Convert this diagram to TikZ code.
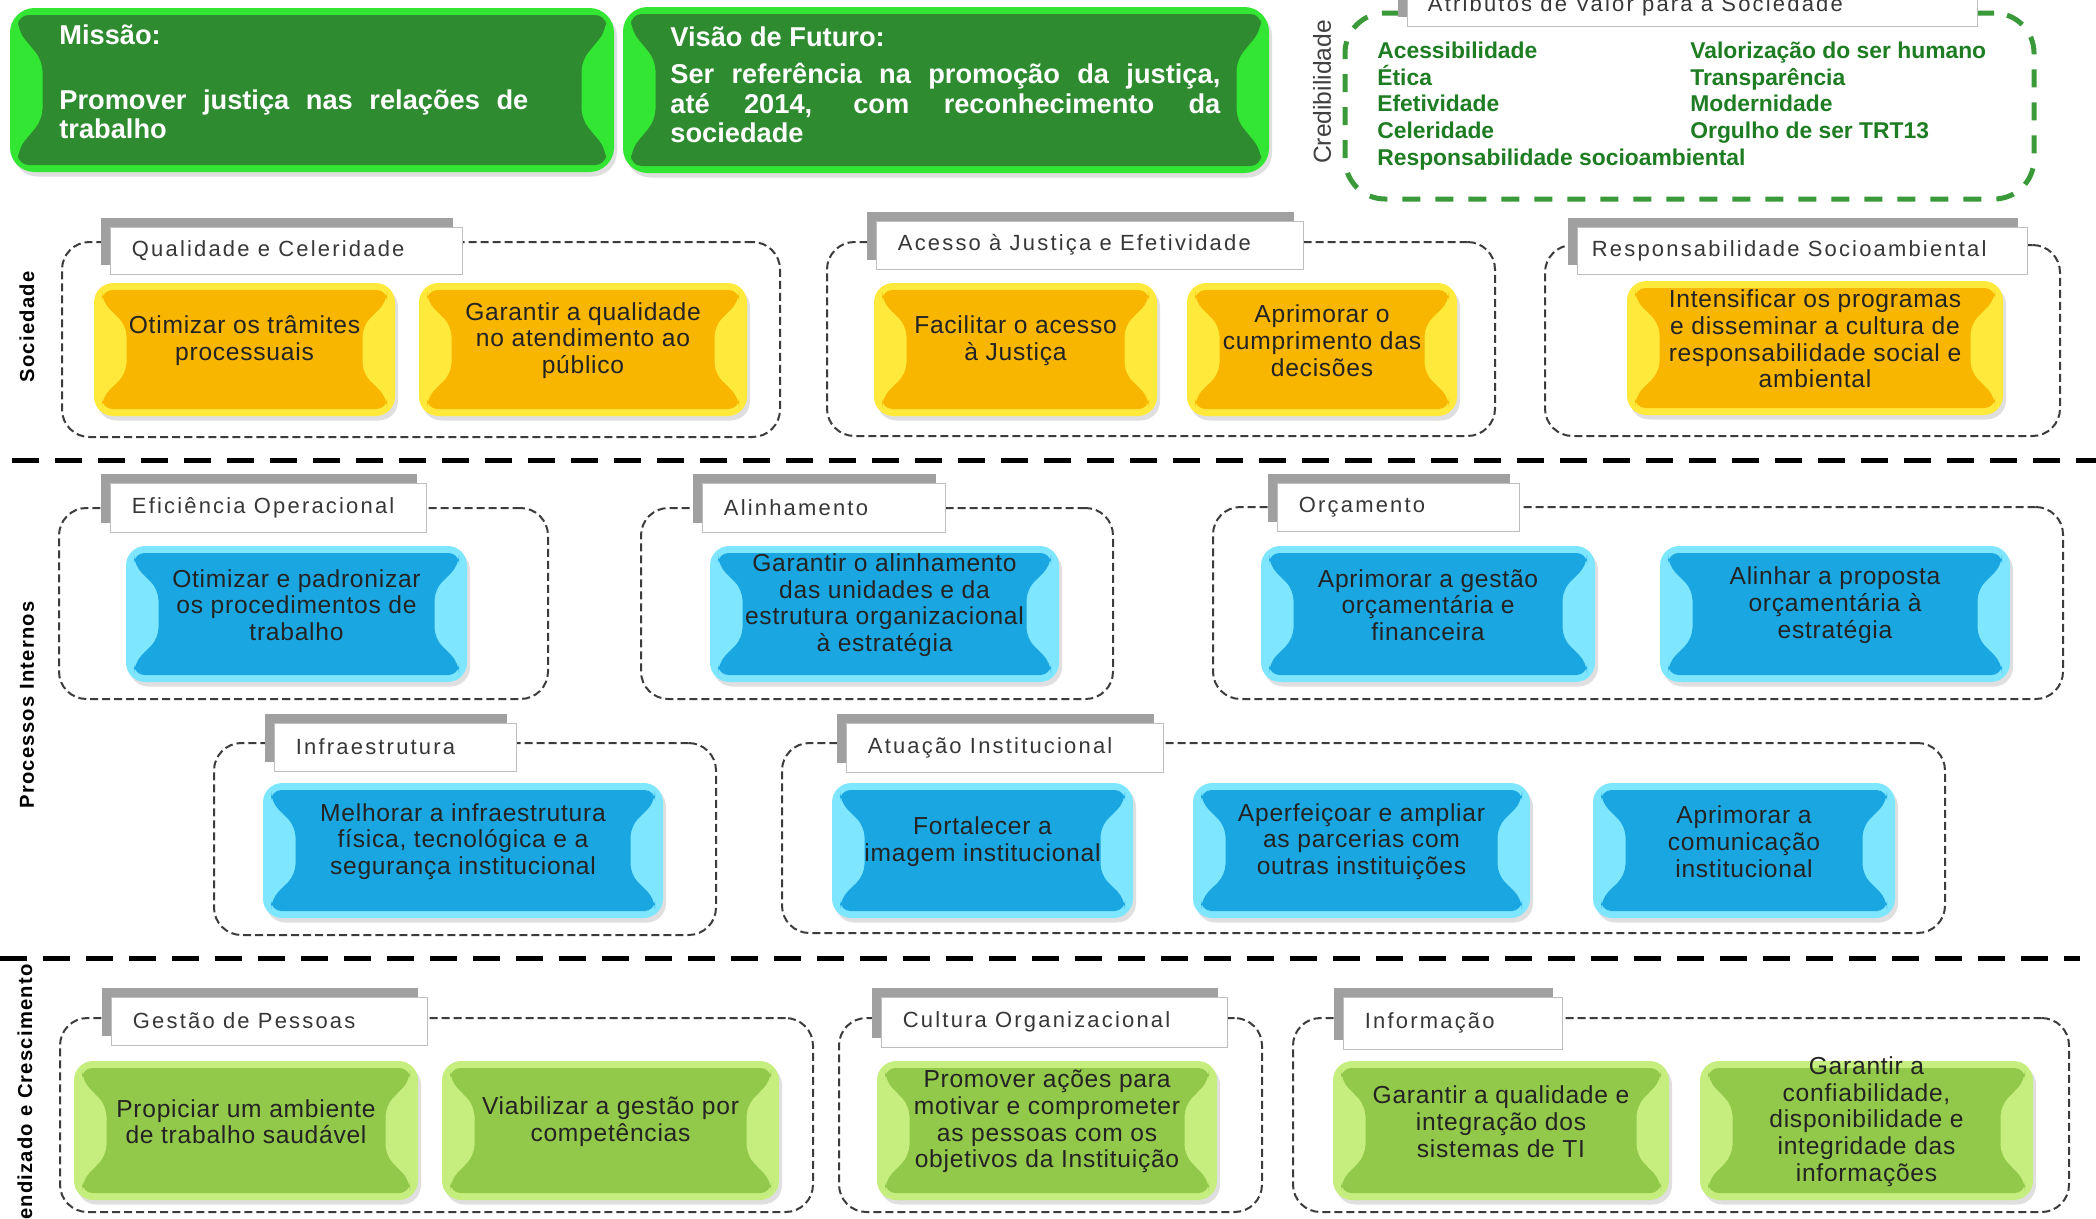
\documentclass[tikz,border=0pt]{standalone}
\usepackage{fontspec}
\setmainfont{Liberation Sans}
\newfontfamily\fontBox[LetterSpace=3]{Liberation Sans}
\newfontfamily\fontTab[LetterSpace=10]{Liberation Sans}
\newfontfamily\fontPersp[LetterSpace=6]{Liberation Sans}
\usetikzlibrary{shapes, positioning, fit, calc, shadows}
\definecolor{cTopEdge}{RGB}{51, 230, 51}
\definecolor{cTopFill}{RGB}{46, 139, 48}
\definecolor{cYelEdge}{RGB}{255, 234, 60}
\definecolor{cYelFill}{RGB}{248, 182, 0}
\definecolor{cBluEdge}{RGB}{127, 230, 255}
\definecolor{cBluFill}{RGB}{26, 167, 225}
\definecolor{cGrnEdge}{RGB}{197, 238, 126}
\definecolor{cGrnFill}{RGB}{147, 201, 75}
\definecolor{cBoxText}{RGB}{35, 35, 35}
\definecolor{cAttrText}{RGB}{30, 125, 34}
\definecolor{cCredLine}{RGB}{58, 154, 58}
\definecolor{cTabDraw}{RGB}{190, 190, 190}
\definecolor{cTabShadow}{RGB}{160, 160, 160}
\definecolor{cTabText}{RGB}{55, 55, 55}
\definecolor{cGroupLine}{RGB}{60, 60, 60}
\tikzset{
    % --- bloco de objetivo ---
    objBase/.style={
        rectangle, rounded corners=11pt, inner sep=0pt, align=center,
        text=cBoxText, font=\fontBox\fontsize{14}{15.2}\selectfont,
        drop shadow={opacity=0.25, shadow xshift=0.6mm, shadow yshift=-0.9mm}
    },
    objBevel/.style 2 args={
        objBase, fill=#1,
        path picture={
            \fill[#2, rounded corners=6pt]
                ($(path picture bounding box.north west)+(1.6mm,-1.4mm)$) --
                ($(path picture bounding box.north east)+(-1.6mm,-1.4mm)$) --
                ($(path picture bounding box.north east)!0.14!(path picture bounding box.south east)+(-1.6mm,0)$) --
                ($(path picture bounding box.north east)!0.32!(path picture bounding box.south east)+(-6.5mm,0)$) --
                ($(path picture bounding box.north east)!0.68!(path picture bounding box.south east)+(-6.5mm,0)$) --
                ($(path picture bounding box.north east)!0.86!(path picture bounding box.south east)+(-1.6mm,0)$) --
                ($(path picture bounding box.south east)+(-1.6mm,1.4mm)$) --
                ($(path picture bounding box.south west)+(1.6mm,1.4mm)$) --
                ($(path picture bounding box.north west)!0.86!(path picture bounding box.south west)+(1.6mm,0)$) --
                ($(path picture bounding box.north west)!0.68!(path picture bounding box.south west)+(6.5mm,0)$) --
                ($(path picture bounding box.north west)!0.32!(path picture bounding box.south west)+(6.5mm,0)$) --
                ($(path picture bounding box.north west)!0.14!(path picture bounding box.south west)+(1.6mm,0)$) -- cycle;
        }
    },
    objYellow/.style={objBevel={cYelEdge}{cYelFill}},
    objBlue/.style={objBevel={cBluEdge}{cBluFill}},
    objGreen/.style={objBevel={cGrnEdge}{cGrnFill}},
    styleTop/.style={objBevel={cTopEdge}{cTopFill}, rounded corners=14pt},
    styleTopText/.style={
        inner sep=0pt, text=white,
        font=\fontsize{15.5}{16.8}\selectfont\bfseries
    },
    % --- grupos tracejados ---
    styleGroup/.style={
        rectangle, draw=cGroupLine, line width=0.4mm, inner sep=0pt,
        dash pattern=on 1.6mm off 0.8mm, rounded corners=5.5mm
    },
    styleCred/.style={
        rectangle, draw=cCredLine, line width=1mm, inner sep=0pt,
        dash pattern=on 3.6mm off 3mm, rounded corners=8mm
    },
    styleSep/.style={
        draw=black, line width=1mm, dash pattern=on 5.4mm off 3.2mm
    },
    % --- abas ---
    styleTab/.style={
        rectangle, fill=white, draw=cTabDraw, line width=0.5pt, inner sep=0pt,
        drop shadow={shadow xshift=-1.8mm, shadow yshift=1.8mm, fill=cTabShadow, opacity=1}
    },
    styleTabText/.style={
        inner sep=0pt, text=cTabText, font=\fontTab\fontsize{12.5}{14}\selectfont
    },
    % --- textos laterais ---
    stylePersp/.style={
        inner sep=0pt, rotate=90, text=black,
        font=\fontPersp\fontsize{11.5}{13}\selectfont\bfseries
    },
    styleCredLabel/.style={
        inner sep=0pt, rotate=90, text=black!75, font=\fontsize{14}{16}\selectfont
    },
    styleAttr/.style={
        inner sep=0pt, align=left, text=cAttrText,
        font=\fontsize{13}{15.1}\selectfont\bfseries
    }
}

\begin{document}
\begin{tikzpicture}[x=0.2mm, y=-0.2mm]

    \useasboundingbox (0,0) rectangle (2096,1218);
    \fill[white] (0,0) rectangle (2096,1218);

    % =========================================================
    % 1. Missão, Visão e Atributos
    % =========================================================

    \node [styleTop, fit={(10,8) (614,172)}] (missao) {};
    \node [styleTopText, anchor=west] (missaoTitle) at (59,35) {Missão:};
    \node [styleTopText, text width=93.8mm, align=justify, anchor=north west] (missaoText) at (59,89)
        {Promover justiça nas relações de\linebreak trabalho};

    \node [styleTop, fit={(623,7) (1269,173)}] (visao) {};
    \node [styleTopText, anchor=west] (visaoTitle) at (670,37) {Visão de Futuro:};
    \node [styleTopText, text width=110mm, align=justify, anchor=north west] (visaoText) at (670,63)
        {Ser referência na promoção da justiça,\linebreak até 2014, com reconhecimento da\linebreak sociedade};

    \node [styleCred, fit={(1345,13) (2034,199)}] (cred) {};
    \node [styleTab, fit={(1407,-20) (1977,26)}] (tabAttr) {};
    \node [styleTabText, right=4.2mm of tabAttr.west, yshift=-0.6mm] (tabAttrText) {Atributos de Valor para a Sociedade};
    \node [styleCredLabel] (credLabel) at (1322,92) {Credibilidade};
    \node [styleAttr, anchor=north west] (attrLeft) at (1377,42)
        {Acessibilidade\\Ética\\Efetividade\\Celeridade\\Responsabilidade socioambiental};
    \node [styleAttr, anchor=north west] (attrRight) at (1690,42)
        {Valorização do ser humano\\Transparência\\Modernidade\\Orgulho de ser TRT13};

    % =========================================================
    % 2. Perspectivas
    % =========================================================

    \coordinate (sepTopL) at (12,460);
    \coordinate (sepTopR) at (2096,460);
    \coordinate (sepBotL) at (0,958);
    \coordinate (sepBotR) at (2080,958);
    \draw [styleSep] (sepTopL) -- (sepTopR);
    \draw [styleSep] (sepBotL) -- (sepBotR);

    \node [stylePersp] (perspSoc) at (27,327) {Sociedade};
    \node [stylePersp] (perspProc) at (27,705) {Processos Internos};
    \node [stylePersp, anchor=east] (perspAprend) at (27,964) {Aprendizado e Crescimento};

    % =========================================================
    % 3. Sociedade
    % =========================================================

    % Qualidade e Celeridade
    \node [styleGroup, fit={(62,242) (780,437)}] (grpQC) {};
    \node [styleTab, fit={(110,227) (462,274)}] (tabQC) {};
    \node [styleTabText, right=4.4mm of tabQC.west] (tabQCtext) {Qualidade e Celeridade};
    \node [objYellow, fit={(94,283) (395,416)}] (yQC1) {Otimizar os trâmites\\processuais};
    \node [objYellow, fit={(419,283) (747,416)}] (yQC2) {Garantir a qualidade\\no atendimento ao\\público};

    % Acesso à Justiça e Efetividade
    \node [styleGroup, fit={(827,242) (1495,436)}] (grpAJ) {};
    \node [styleTab, fit={(876,221) (1303,269)}] (tabAJ) {};
    \node [styleTabText, right=4.4mm of tabAJ.west] (tabAJtext) {Acesso à Justiça e Efetividade};
    \node [objYellow, fit={(874,283) (1157,416)}] (yAJ1) {Facilitar o acesso\\à Justiça};
    \node [objYellow, fit={(1187,283) (1457,416)}] (yAJ2) {Aprimorar o\\cumprimento das\\decisões};

    % Responsabilidade Socioambiental
    \node [styleGroup, fit={(1545,245) (2060,436)}] (grpRS) {};
    \node [styleTab, fit={(1577,227) (2027,274)}] (tabRS) {};
    \node [styleTabText, right=3mm of tabRS.west] (tabRStext) {Responsabilidade Socioambiental};
    \node [objYellow, fit={(1627,281) (2003,415)}] (yRS1)
        {Intensificar os programas\\e disseminar a cultura de\\responsabilidade social e\\ambiental};

    % =========================================================
    % 4. Processos Internos
    % =========================================================

    % Eficiência Operacional
    \node [styleGroup, fit={(59,508) (548,699)}] (grpEO) {};
    \node [styleTab, fit={(110,483) (426,532)}] (tabEO) {};
    \node [styleTabText, right=4.4mm of tabEO.west] (tabEOtext) {Eficiência Operacional};
    \node [objBlue, fit={(126,546) (467,682)}] (bEO1) {Otimizar e padronizar\\os procedimentos de\\trabalho};

    % Alinhamento
    \node [styleGroup, fit={(641,508) (1113,699)}] (grpAL) {};
    \node [styleTab, fit={(702,483) (945,532)}] (tabAL) {};
    \node [styleTabText, right=4.4mm of tabAL.west] (tabALtext) {Alinhamento};
    \node [objBlue, fit={(710,546) (1059,682)}] (bAL1)
        {Garantir o alinhamento\\das unidades e da\\estrutura organizacional\\à estratégia};

    % Orçamento
    \node [styleGroup, fit={(1213,507) (2063,699)}] (grpOR) {};
    \node [styleTab, fit={(1277,483) (1519,531)}] (tabOR) {};
    \node [styleTabText, right=4.4mm of tabOR.west] (tabORtext) {Orçamento};
    \node [objBlue, fit={(1261,546) (1595,682)}] (bOR1) {Aprimorar a gestão\\orçamentária e\\financeira};
    \node [objBlue, fit={(1660,546) (2010,682)}] (bOR2) {Alinhar a proposta\\orçamentária à\\estratégia};

    % Infraestrutura
    \node [styleGroup, fit={(214,743) (716,935)}] (grpIN) {};
    \node [styleTab, fit={(274,723) (516,771)}] (tabIN) {};
    \node [styleTabText, right=4.4mm of tabIN.west] (tabINtext) {Infraestrutura};
    \node [objBlue, fit={(263,783) (663,918)}] (bIN1)
        {Melhorar a infraestrutura\\física, tecnológica e a\\segurança institucional};

    % Atuação Institucional
    \node [styleGroup, fit={(782,743) (1945,933)}] (grpAI) {};
    \node [styleTab, fit={(846,723) (1163,772)}] (tabAI) {};
    \node [styleTabText, right=4.4mm of tabAI.west] (tabAItext) {Atuação Institucional};
    \node [objBlue, fit={(832,783) (1133,918)}] (bAI1) {Fortalecer a\\imagem institucional};
    \node [objBlue, fit={(1193,783) (1530,918)}] (bAI2) {Aperfeiçoar e ampliar\\as parcerias com\\outras instituições};
    \node [objBlue, fit={(1593,783) (1895,918)}] (bAI3) {Aprimorar a\\comunicação\\institucional};

    % =========================================================
    % 5. Aprendizado e Crescimento
    % =========================================================

    % Gestão de Pessoas
    \node [styleGroup, fit={(60,1018) (813,1212)}] (grpGP) {};
    \node [styleTab, fit={(111,997) (427,1045)}] (tabGP) {};
    \node [styleTabText, right=4.4mm of tabGP.west] (tabGPtext) {Gestão de Pessoas};
    \node [objGreen, fit={(74,1061) (418,1200)}] (gGP1) {Propiciar um ambiente\\de trabalho saudável};
    \node [objGreen, fit={(442,1061) (779,1200)}] (gGP2) {Viabilizar a gestão por\\competências};

    % Cultura Organizacional
    \node [styleGroup, fit={(839,1018) (1262,1212)}] (grpCO) {};
    \node [styleTab, fit={(881,997) (1227,1047)}] (tabCO) {};
    \node [styleTabText, right=4.4mm of tabCO.west] (tabCOtext) {Cultura Organizacional};
    \node [objGreen, fit={(877,1061) (1217,1200)}] (gCO1)
        {Promover ações para\\motivar e comprometer\\as pessoas com os\\objetivos da Instituição};

    % Informação
    \node [styleGroup, fit={(1293,1018) (2069,1212)}] (grpIF) {};
    \node [styleTab, fit={(1343,997) (1562,1049)}] (tabIF) {};
    \node [styleTabText, right=4.4mm of tabIF.west] (tabIFtext) {Informação};
    \node [objGreen, fit={(1333,1061) (1669,1200)}] (gIF1) {Garantir a qualidade e\\integração dos\\sistemas de TI};
    \node [objGreen, fit={(1700,1061) (2033,1200)}] (gIF2)
        {Garantir a\\confiabilidade,\\disponibilidade e\\integridade das\\informações};

\end{tikzpicture}
\end{document}
